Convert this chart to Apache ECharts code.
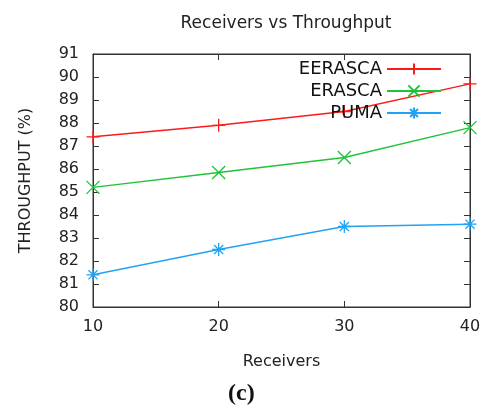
<!DOCTYPE html>
<html>
<head>
<meta charset="utf-8">
<script src="https://cdn.jsdelivr.net/npm/echarts@6/dist/echarts.min.js"></script>
<style>
  html, body { margin: 0; padding: 0; background: #fff; }
  #chart { width: 487px; height: 410px; }
</style>
</head>
<body>
<div id="chart"></div>
<script>
// data
const receivers = [10, 20, 30, 40]
const eerasca = [87.4, 87.9, 88.5, 89.7]
const erasca = [85.2, 85.85, 86.5, 87.8]
const puma = [81.4, 82.5, 83.5, 83.6]
const yTicks = [80, 81, 82, 83, 84, 85, 86, 87, 88, 89, 90, 91]

const FONT = 'DejaVu Sans'
const AXIS_COLOR = '#333'

// gnuplot-ish point types
const plusPath = 'path://M5,0V10M0,5H10'
const crossPath = 'path://M0,0L10,10M10,0L0,10'
const starPath = 'path://M5,0V10M0,5H10M1.5,1.5L8.5,8.5M8.5,1.5L1.5,8.5'

const pairs = ys => receivers.map((x, i) => [x, ys[i]])

const makeSeries = (name, ys, color, symbol) => ({
  name,
  type: 'line',
  data: pairs(ys),
  symbol,
  symbolSize: 13,
  showAllSymbol: true,
  lineStyle: { color, width: 1.4 },
  itemStyle: { color, borderColor: color, borderWidth: 1.3 },
  emphasis: { disabled: true }
})

const xBase = {
  type: 'value',
  min: receivers[0],
  max: receivers[receivers.length - 1],
  interval: 10,
  splitLine: { show: false },
  axisLine: { show: true, lineStyle: { color: AXIS_COLOR } },
  axisTick: { show: true, inside: true, length: 6, lineStyle: { color: AXIS_COLOR } }
}

const yBase = {
  type: 'value',
  min: yTicks[0],
  max: yTicks[yTicks.length - 1],
  interval: 1,
  splitLine: { show: false },
  axisLine: { show: true, lineStyle: { color: AXIS_COLOR } },
  axisTick: { show: true, inside: true, length: 6, lineStyle: { color: AXIS_COLOR } }
}

const option = {
  animation: false,
  backgroundColor: '#fff',
  textStyle: { fontFamily: FONT },
  title: {
    text: 'Receivers vs Throughput',
    left: 281,
    textAlign: 'center',
    top: 10,
    textStyle: { fontFamily: FONT, fontSize: 17, fontWeight: 'normal', color: '#222' }
  },
  legend: {
    orient: 'vertical',
    right: 40,
    top: 55,
    align: 'right',
    itemWidth: 54,
    itemHeight: 14,
    itemGap: 4,
    textStyle: { fontFamily: FONT, fontSize: 18, color: '#111' },
    data: ['EERASCA', 'ERASCA', 'PUMA']
  },
  grid: {
    left: 93, right: 17, top: 54, bottom: 103,
    show: true, borderColor: AXIS_COLOR, borderWidth: 1
  },
  xAxis: [
    Object.assign({}, xBase, {
      position: 'bottom',
      name: 'Receivers',
      nameLocation: 'middle',
      nameGap: 47,
      nameTextStyle: { fontFamily: FONT, fontSize: 16, color: '#222' },
      axisLabel: { fontFamily: FONT, fontSize: 16, color: '#222', margin: 12 }
    }),
    Object.assign({}, xBase, { position: 'top', axisLabel: { show: false } })
  ],
  yAxis: [
    Object.assign({}, yBase, {
      position: 'left',
      name: 'THROUGHPUT (%)',
      nameLocation: 'middle',
      nameGap: 59,
      nameTextStyle: { fontFamily: FONT, fontSize: 16, color: '#222' },
      axisLabel: { fontFamily: FONT, fontSize: 16, color: '#222', margin: 14 }
    }),
    Object.assign({}, yBase, { position: 'right', axisLabel: { show: false } })
  ],
  graphic: [{
    type: 'text',
    left: 228,
    top: 382,
    style: { text: '(c)', font: 'bold 24px "Liberation Serif"', fill: '#111' }
  }],
  series: [
    makeSeries('EERASCA', eerasca, '#ff1a1a', plusPath),
    makeSeries('ERASCA', erasca, '#1fc33a', crossPath),
    makeSeries('PUMA', puma, '#22a3f2', starPath)
  ]
}

const chart = echarts.init(document.getElementById('chart'))
chart.setOption(option)
</script>
</body>
</html>
